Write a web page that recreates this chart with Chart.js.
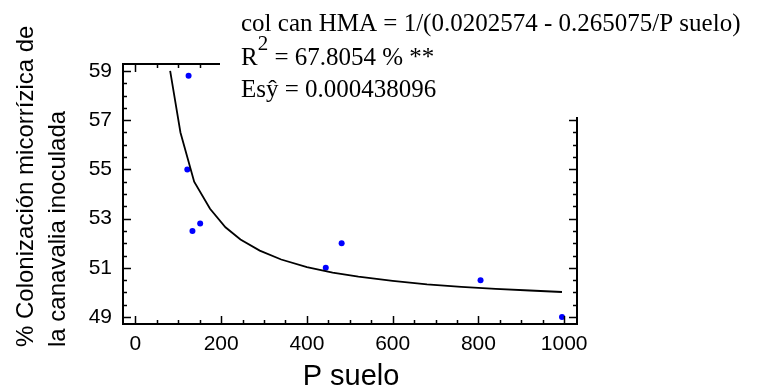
<!DOCTYPE html>
<html>
<head>
<meta charset="utf-8">
<script src="https://cdn.jsdelivr.net/npm/chart.js@4.4.1/dist/chart.umd.min.js"></script>
<style>
  html, body { margin: 0; padding: 0; background: #fff; }
  #wrap { width: 760px; height: 391px; position: relative; }
</style>
</head>
<body>
<div id="wrap"><canvas id="chart"></canvas></div>
<script>
// Messpunkte
const pSuelo = [124, 121, 133, 151, 444, 481, 805, 995]
const colonizacion = [58.8, 55.0, 52.5, 52.8, 51.0, 52.0, 50.5, 49.0]

// Angepasste Kurve
const curvaP = [81, 105, 137, 174, 210, 245, 290, 340, 400, 460, 520, 600, 680, 760, 840, 920, 995]
const curvaY = [59.0, 56.5, 54.5, 53.4, 52.65, 52.15, 51.7, 51.34, 51.03, 50.81, 50.64, 50.47, 50.33, 50.23, 50.15, 50.08, 50.02]

// Achsenbeschriftungen
const xTicks = [0, 200, 400, 600, 800, 1000]
const yTicks = [49, 51, 53, 55, 57, 59]

const yTitle = ['% Colonización micorrízica de', 'la canavalia inoculada']
const xTitle = 'P suelo'
const eqLine = 'col can HMA = 1/(0.0202574 - 0.265075/P suelo)'
const r2Line = ' = 67.8054 % **'
const esLine = 'Esŷ = 0.000438096'

const sans = '"Liberation Sans", Arial, sans-serif'
const serif = '"Liberation Serif", "Times New Roman", serif'

// Rahmen, Tick-Striche, Textbox
const framePlugin = {
  id: 'frame',
  afterDatasetsDraw(chart) {
    const { ctx, chartArea: a, scales } = chart
    const x = scales.x, y = scales.y
    ctx.save()
    ctx.strokeStyle = '#000'
    ctx.lineWidth = 1.5

    // Tick-Striche nach innen, auf allen vier Seiten
    ctx.beginPath()
    for (let v = 0; v <= 1000; v += 50) {
      const px = Math.round(x.getPixelForValue(v)) + 0.5
      const len = v % 200 === 0 ? 8 : 4
      ctx.moveTo(px, a.bottom); ctx.lineTo(px, a.bottom - len)
      ctx.moveTo(px, a.top); ctx.lineTo(px, a.top + len)
    }
    for (let v = 49; v <= 59; v += 0.5) {
      const py = Math.round(y.getPixelForValue(v)) + 0.5
      const len = (v - 49) % 2 === 0 ? 8 : 4
      ctx.moveTo(a.left, py); ctx.lineTo(a.left + len, py)
      ctx.moveTo(a.right, py); ctx.lineTo(a.right - len, py)
    }
    ctx.stroke()

    ctx.lineWidth = 2
    ctx.strokeRect(a.left, a.top, a.right - a.left, a.bottom - a.top)

    // weisse Box fuer die Gleichung
    ctx.fillStyle = '#fff'
    ctx.fillRect(220, 0, 540, 117)

    ctx.fillStyle = '#000'
    ctx.textAlign = 'left'
    ctx.textBaseline = 'alphabetic'
    ctx.font = '25px ' + serif
    ctx.fillText(eqLine, 241, 31)
    ctx.fillText('R', 241, 65)
    const rw = ctx.measureText('R').width
    ctx.font = '21px ' + serif
    ctx.fillText('2', 241 + rw, 50)
    const tw = ctx.measureText('2').width
    ctx.font = '25px ' + serif
    ctx.fillText(r2Line, 241 + rw + tw, 65)
    ctx.fillText(esLine, 241, 97)
    ctx.restore()
  },
  afterDraw(chart) {
    const { ctx } = chart
    ctx.save()
    ctx.fillStyle = '#000'
    ctx.textAlign = 'left'
    ctx.textBaseline = 'alphabetic'
    ctx.font = '24px ' + sans
    const bases = [33, 65]
    yTitle.forEach((t, i) => {
      ctx.save()
      ctx.translate(bases[i], 347)
      ctx.rotate(-Math.PI / 2)
      ctx.fillText(t, 0, 0)
      ctx.restore()
    })
    ctx.font = '29px ' + sans
    ctx.textAlign = 'center'
    ctx.fillText(xTitle, 351, 385)
    ctx.restore()
  }
}

new Chart(document.getElementById('chart'), {
  type: 'scatter',
  data: {
    datasets: [
      {
        type: 'line',
        data: curvaP.map((p, i) => ({ x: p, y: curvaY[i] })),
        borderColor: '#000',
        borderWidth: 1.8,
        pointRadius: 0,
        tension: 0,
        fill: false
      },
      {
        data: pSuelo.map((p, i) => ({ x: p, y: colonizacion[i] })),
        backgroundColor: '#0000ff',
        borderColor: '#0000ff',
        pointRadius: 3,
        borderWidth: 0
      }
    ]
  },
  plugins: [framePlugin],
  options: {
    responsive: true,
    maintainAspectRatio: false,
    animation: false,
    layout: { padding: { top: 64, right: 183, left: 0, bottom: 0 } },
    plugins: { legend: { display: false }, tooltip: { enabled: false } },
    scales: {
      x: {
        type: 'linear',
        min: -29,
        max: 1030,
        grid: { display: false, drawTicks: false },
        border: { display: false },
        ticks: {
          color: '#000', font: { family: sans, size: 21 }, padding: 8, maxRotation: 0,
          callback: v => String(v) // ohne Tausendertrennzeichen
        },
        afterBuildTicks: s => { s.ticks = xTicks.map(v => ({ value: v })) },
        afterFit: s => { s.height = 67 }
      },
      y: {
        type: 'linear',
        min: 48.72,
        max: 59.28,
        grid: { display: false, drawTicks: false },
        border: { display: false },
        ticks: { color: '#000', font: { family: sans, size: 21 }, padding: 11 },
        afterBuildTicks: s => { s.ticks = yTicks.map(v => ({ value: v })) },
        afterFit: s => { s.width = 123 }
      }
    }
  }
})
</script>
</body>
</html>
